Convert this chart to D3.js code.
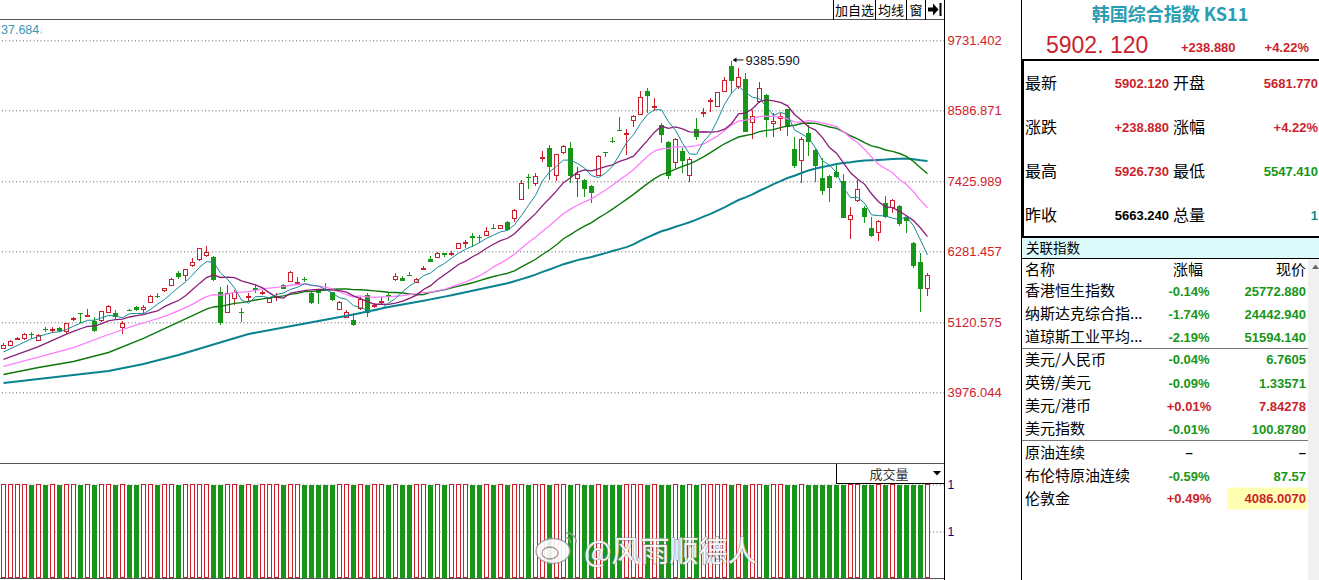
<!DOCTYPE html>
<html>
<head>
<meta charset="utf-8">
<script src="https://cdn.jsdelivr.net/npm/d3@7"></script>
<style>
  body { margin: 0; background: #fff; }
  svg { display: block; font-family: "Liberation Sans", Arial, sans-serif; }
  .cjk { font-family: "Noto Sans CJK SC", sans-serif; }
</style>
</head>
<body>
<script>
// daily candles (oldest first)
const opens = [
  4700,4744,4847,4852,4932,4842,5011,4999,5022,4973,
  5174,5268,5240,5147,5147,5289,5268,5032,5325,5370,
  5333,5452,5550,5649,5719,5926,5882,6052,6144,6232,
  6193,5616,5284,5523,5297,5534,5681,5603,5444,5546,
  5725,5801,5774,5828,5595,5657,5668,5611,5326,5212,
  5158,5359,5567,5393,5452,5567,5828,5850,5897,5774,
  5998,6160,6183,6248,6244,6330,6424,6527,6523,6559,
  6670,6651,6755,6826,7131,7504,7393,7813,7965,7529,
  7893,7965,7468,7447,7349,7524,7897,8093,8268,8206,
  8423,8521,8902,8652,8341,8068,7736,7926,7529,8276,
  8549,8739,8645,8907,9311,8972,9098,8390,8727,8837,
  8374,8449,8603,7954,7769,8215,7938,7480,7512,7578,
  7431,6804,7120,6994,6662,6592,7066,7001,7022,6837,
  6422,6106,5681.77
];
const highs = [
  4782,4823,4888,4946,4962,4929,5039,5044,5036,5117,
  5207,5272,5333,5212,5313,5403,5322,5147,5338,5387,
  5403,5559,5595,5686,5837,5959,6000,6172,6335,6368,
  6204,5693,5730,5649,5359,5604,5747,5649,5526,5595,
  5739,5959,5866,5856,5608,5670,5758,5624,5461,5322,
  5268,5539,5595,5441,5529,5604,5931,5877,5938,5850,
  6033,6204,6270,6248,6291,6425,6466,6576,6548,6674,
  6728,6719,6769,6965,7447,7540,7557,7921,8019,7880,
  8019,8068,7655,7468,7365,7848,7910,8155,8482,8276,
  8502,8897,8951,8783,8384,8085,8126,7965,7818,8456,
  8619,8783,8894,9136,9385.59,9273,9192,8592,9054,8861,
  8538,8538,8616,8145,8145,8341,7954,7802,7534,7720,
  7540,7011,7447,7014,6837,6801,7185,7136,7038,6850,
  6438,6248,5926.73
];
const lows = [
  4676,4733,4823,4839,4847,4834,4962,4950,4970,4929,
  5150,5109,5237,4970,5133,5281,5158,4924,5305,5313,
  5268,5436,5513,5616,5706,5823,5801,6020,6131,6193,
  5804,5076,5272,5408,5130,5457,5595,5567,5431,5474,
  5657,5788,5771,5784,5416,5420,5632,5474,5317,5186,
  5065,5322,5202,5349,5420,5469,5801,5791,5886,5763,
  5976,6106,6172,6193,6204,6319,6340,6352,6412,6548,
  6657,6638,6618,6765,7120,7295,7349,7746,7447,7436,
  7872,7403,7174,7174,7076,7512,7818,8047,8256,7856,
  8309,8510,8538,8580,8057,7468,7638,7566,7419,8101,
  8482,8564,8636,8897,8865,8930,8224,8112,8714,8155,
  8145,8253,8166,7638,7403,7839,7419,7202,7092,7488,
  6821,6477,7095,6749,6510,6455,6834,6912,6695,6585,
  6013,5294,5547.41
];
const closes = [
  4744,4810,4856,4924,4921,4918,4999,5011,4983,5104,
  5183,5251,5248,4983,5300,5382,5202,5104,5317,5322,
  5366,5546,5541,5686,5823,5861,5987,6106,6330,6275,
  5812,5114,5595,5616,5289,5546,5649,5613,5513,5554,
  5673,5943,5783,5818,5428,5595,5660,5485,5447,5294,
  5076,5501,5268,5403,5462,5539,5882,5801,5890,5828,
  6008,6111,6253,6221,6253,6412,6433,6507,6504,6618,
  6662,6706,6630,6952,7393,7496,7508,7823,7665,7867,
  7998,7512,7540,7305,7239,7835,7888,8085,8260,8215,
  8489,8799,8825,8662,8188,7517,8112,7763,7785,8155,
  8559,8748,8878,9082,9071,9126,8237,8489,8946,8428,
  8412,8489,8318,7676,8112,8073,7681,7267,7321,7501,
  6831,6870,7300,6847,6536,6772,6847,7115,6723,6782,
  6041,5663.24,5902.12
];
// volume shows as 1 for every day
const volumes = closes.map(() => 1);

// moving averages before their window is full (history is off screen)
const ma5EarlyIdx = [0];
const ma5EarlyVal = [4635];
const ma10EarlyIdx = [0, 5];
const ma10EarlyVal = [4515, 4722];
const ma20EarlyIdx = [0, 5, 10, 15];
const ma20EarlyVal = [4398, 4553, 4708, 4921];
const ma30EarlyIdx = [0, 5, 10, 15, 20, 25];
const ma30EarlyVal = [4267, 4381, 4480, 4627, 4856, 5125];
const ma60EarlyIdx = [0, 5, 10, 15, 20, 25, 30, 35, 40, 45, 50, 55];
const ma60EarlyVal = [4128, 4193, 4259, 4324, 4439, 4586, 4757, 4929, 5035, 5142, 5248, 5370];

const priceTicks = [9731.402, 8586.871, 7425.989, 6281.457, 5120.575, 3976.044];
const volTicks = [1, 0.5];

const title = '韩国综合指数 KS11';
const lastPrice = '5902. 120';
const lastChange = '+238.880';
const lastPct = '+4.22%';

const quoteLabels = [['最新', '开盘'], ['涨跌', '涨幅'], ['最高', '最低'], ['昨收', '总量']];
const quoteValues = [['5902.120', '5681.770'], ['+238.880', '+4.22%'], ['5926.730', '5547.410'], ['5663.240', '1']];
const quoteColors = [['red', 'red'], ['red', 'red'], ['red', 'green'], ['black', 'teal']];

const relNames = ['香港恒生指数', '纳斯达克综合指...', '道琼斯工业平均...', '美元/人民币', '英镑/美元', '美元/港币', '美元指数', '原油连续', '布伦特原油连续', '伦敦金'];
const relChanges = ['-0.14%', '-1.74%', '-2.19%', '-0.04%', '-0.09%', '+0.01%', '-0.01%', '–', '-0.59%', '+0.49%'];
const relPrices = ['25772.880', '24442.940', '51594.140', '6.7605', '1.33571', '7.84278', '100.8780', '–', '87.57', '4086.0070'];

const colors = { red: '#cc1f2b', green: '#179617', black: '#000', teal: '#1a8a8a' };

// ---------------------------------------------------------------
const width = 1319, height = 580;
const chartRight = 944.5;

const svg = d3.select('body')
  .append('svg')
  .attr('width', width)
  .attr('height', height)
  .style('background', '#fff');

const x = d3.scaleLinear()
  .domain([0, closes.length - 1])
  .range([3.5, 927.5]);

const y = d3.scaleLinear()
  .domain([priceTicks[priceTicks.length - 1], priceTicks[0]])
  .range([392.3, 40.3]);

const yVol = d3.scaleLinear()
  .domain([0, 1])
  .range([578.5, 484.5]);

// dotted grid lines of the price panel
svg.append('g')
  .attr('transform', `translate(${chartRight},0)`)
  .call(d3.axisLeft(y).tickValues(priceTicks).tickSize(chartRight).tickFormat(''))
  .call(g => g.select('.domain').remove())
  .selectAll('line')
  .attr('stroke', '#666')
  .attr('stroke-dasharray', '1,2.5');

// price labels
svg.append('g')
  .attr('transform', `translate(${chartRight},0)`)
  .call(d3.axisRight(y).tickValues(priceTicks).tickFormat(d3.format('.3f')).tickSize(0).tickPadding(3))
  .call(g => g.select('.domain').remove())
  .selectAll('text')
  .attr('fill', '#d0202c')
  .style('font-size', '13px')
  .style('font-family', '"Liberation Sans", Arial, sans-serif');

// volume grid + labels
svg.append('g')
  .attr('transform', `translate(${chartRight},0)`)
  .call(d3.axisLeft(yVol).tickValues(volTicks).tickSize(chartRight).tickFormat(''))
  .call(g => g.select('.domain').remove())
  .selectAll('line')
  .attr('stroke', '#666')
  .attr('stroke-dasharray', '1,2.5');

svg.append('g')
  .attr('transform', `translate(${chartRight},0)`)
  .call(d3.axisRight(yVol).tickValues(volTicks).tickFormat(d3.format('.0f')).tickSize(0).tickPadding(3))
  .call(g => g.select('.domain').remove())
  .selectAll('text')
  .attr('fill', '#000080')
  .style('font-size', '12px')
  .style('font-family', '"Liberation Sans", Arial, sans-serif');

// candles
const days = d3.range(closes.length);
const isUp = i => closes[i] >= opens[i];

const candles = svg.append('g')
  .attr('shape-rendering', 'crispEdges')
  .selectAll('g')
  .data(days)
  .join('g');

candles.append('line')
  .attr('x1', i => x(i)).attr('x2', i => x(i))
  .attr('y1', i => y(highs[i]))
  .attr('y2', i => isUp(i) ? y(closes[i]) : y(lows[i]))
  .attr('stroke', i => isUp(i) ? colors.red : colors.green);

candles.filter(isUp).append('line')
  .attr('x1', i => x(i)).attr('x2', i => x(i))
  .attr('y1', i => y(opens[i]))
  .attr('y2', i => y(lows[i]))
  .attr('stroke', colors.red);

candles.filter(i => !isUp(i)).append('rect')
  .attr('x', i => x(i) - 2.5)
  .attr('width', 5)
  .attr('y', i => y(opens[i]))
  .attr('height', i => Math.max(1, y(closes[i]) - y(opens[i])))
  .attr('fill', colors.green);

candles.filter(isUp).append('rect')
  .attr('x', i => x(i) - 2)
  .attr('width', 4)
  .attr('y', i => Math.round(y(closes[i])) + 0.5)
  .attr('height', i => Math.max(0.5, Math.round(y(opens[i]) - y(closes[i]))))
  .attr('fill', '#fff')
  .attr('stroke', colors.red);

// moving averages
function maPoints(n, earlyIdx, earlyVal) {
  const pts = earlyIdx.map((d, k) => [d, earlyVal[k]]);
  for (let i = n - 1; i < closes.length; i++) {
    pts.push([i, d3.mean(closes.slice(i - n + 1, i + 1))]);
  }
  return pts;
}

const maLines = [
  { pts: maPoints(60, ma60EarlyIdx, ma60EarlyVal), color: '#0a8290', w: 2 },
  { pts: maPoints(30, ma30EarlyIdx, ma30EarlyVal), color: '#0b780b', w: 1.4 },
  { pts: maPoints(20, ma20EarlyIdx, ma20EarlyVal), color: '#ff7dff', w: 1.3 },
  { pts: maPoints(10, ma10EarlyIdx, ma10EarlyVal), color: '#8a1e78', w: 1.3 },
  { pts: maPoints(5, ma5EarlyIdx, ma5EarlyVal), color: '#138a96', w: 1 }
];

const line = d3.line().x(d => x(d[0])).y(d => y(d[1]));

svg.append('g')
  .selectAll('path')
  .data(maLines)
  .join('path')
  .attr('d', d => line(d.pts))
  .attr('fill', 'none')
  .attr('stroke', d => d.color)
  .attr('stroke-width', d => d.w);

// highest point marker
const topIdx = d3.maxIndex(highs);
const topY = y(highs[topIdx]) - 1.5;
svg.append('path')
  .attr('d', `M${x(topIdx) + 1},${topY} l4,-2.5 v5 z`)
  .attr('fill', '#111');
svg.append('line')
  .attr('x1', x(topIdx) + 4).attr('x2', x(topIdx) + 12)
  .attr('y1', topY).attr('y2', topY)
  .attr('stroke', '#111');
svg.append('text')
  .attr('x', x(topIdx) + 14)
  .attr('y', topY)
  .attr('dy', '0.35em')
  .style('font-size', '13px')
  .attr('fill', '#10142e')
  .text(d3.format('.3f')(highs[topIdx]));

// volume bars
const vol = svg.append('g').attr('shape-rendering', 'crispEdges');
vol.selectAll('rect.dn')
  .data(days.filter(i => !isUp(i)))
  .join('rect')
  .attr('x', i => x(i) - 2.5)
  .attr('width', 5)
  .attr('y', i => yVol(volumes[i]))
  .attr('height', i => yVol(0) - yVol(volumes[i]))
  .attr('fill', colors.green);
vol.selectAll('rect.up')
  .data(days.filter(isUp))
  .join('rect')
  .attr('x', i => x(i) - 2)
  .attr('width', 4)
  .attr('y', i => yVol(volumes[i]))
  .attr('height', i => yVol(0) - yVol(volumes[i]) - 1)
  .attr('fill', '#fff')
  .attr('stroke', colors.red);

// frame lines
const frame = svg.append('g').attr('shape-rendering', 'crispEdges').attr('fill', 'none');
frame.append('line').attr('x1', 0).attr('x2', chartRight).attr('y1', 19.5).attr('y2', 19.5).attr('stroke', '#555');
frame.append('line').attr('x1', 0).attr('x2', chartRight).attr('y1', 463.5).attr('y2', 463.5).attr('stroke', '#555');
frame.append('line').attr('x1', 0).attr('x2', chartRight).attr('y1', 578.5).attr('y2', 578.5).attr('stroke', '#555');
frame.append('line').attr('x1', chartRight).attr('x2', chartRight).attr('y1', 0).attr('y2', height).attr('stroke', '#000');
frame.append('line').attr('x1', 1021.5).attr('x2', 1021.5).attr('y1', 0).attr('y2', height).attr('stroke', '#000');

// top buttons
const btnEdges = [833.5, 875.5, 906.5, 925.5];
const btnText = ['加自选', '均线', '窗'];
btnEdges.forEach(e => frame.append('line').attr('x1', e).attr('x2', e).attr('y1', 0).attr('y2', 19.5).attr('stroke', '#000'));
svg.append('g').selectAll('text')
  .data(btnText)
  .join('text')
  .attr('class', 'cjk')
  .attr('x', (d, k) => (btnEdges[k] + btnEdges[k + 1]) / 2)
  .attr('y', 10)
  .attr('dy', '0.35em')
  .attr('text-anchor', 'middle')
  .style('font-size', '13px')
  .text(d => d);
svg.append('path')
  .attr('d', 'M928,7.5 h5 v-4 l5.5,6 l-5.5,6 v-4 h-5 z M939.5,3 h2 v13 h-2 z')
  .attr('fill', '#000');

// volume header box
frame.append('path').attr('d', 'M836.5,463.5 V483.5 H944.5').attr('stroke', '#000');
svg.append('text').attr('class', 'cjk')
  .attr('x', 889).attr('y', 474).attr('dy', '0.35em')
  .attr('text-anchor', 'middle')
  .style('font-size', '13px').attr('fill', '#333')
  .text('成交量');
svg.append('path').attr('d', 'M933,471 h8 l-4,4.5 z').attr('fill', '#000');

// leftover label at top left
svg.append('text')
  .attr('x', 1).attr('y', 30).attr('dy', '0.35em')
  .style('font-size', '12.5px').attr('fill', '#3a96b4')
  .text('37.684');
svg.append('text')
  .attr('x', 38).attr('y', 30).attr('dy', '0.35em')
  .style('font-size', '12px').attr('fill', '#8fe4ff')
  .text('↓');

// watermark
const wm = svg.append('g').attr('opacity', 0.9);
wm.append('ellipse').attr('cx', 553).attr('cy', 551).attr('rx', 17).attr('ry', 12.5)
  .attr('fill', '#fff').attr('stroke', '#999').attr('stroke-width', 1.3);
wm.append('ellipse').attr('cx', 550).attr('cy', 553).attr('rx', 8).attr('ry', 6)
  .attr('fill', 'none').attr('stroke', '#999').attr('stroke-width', 1.3);
wm.append('path').attr('d', 'M566,533 a9,9 0 0 1 10,10 M565,538 a4,4 0 0 1 5,5')
  .attr('fill', 'none').attr('stroke', '#999').attr('stroke-width', 1.6);
wm.append('text').attr('class', 'cjk')
  .attr('x', 584).attr('y', 562)
  .style('font-size', '29px')
  .attr('fill', '#fff').attr('stroke', '#8a8a8a').attr('stroke-width', 1.2)
  .style('paint-order', 'stroke')
  .text('@风雨顺德人');

// ---------------- right panel ----------------
const panel = svg.append('g');

panel.append('text').attr('class', 'cjk')
  .attr('x', 1170).attr('y', 15)
  .attr('dy', '0.36em')
  .attr('text-anchor', 'middle')
  .style('font-size', '18px').style('font-weight', 'bold')
  .attr('fill', '#2a9db4')
  .text(title);

panel.append('text')
  .attr('x', 1046).attr('y', 53)
  .style('font-size', '23px')
  .attr('fill', colors.red)
  .text(lastPrice);
panel.append('text')
  .attr('x', 1181).attr('y', 52)
  .style('font-size', '13px').style('font-weight', 'bold')
  .attr('fill', colors.red)
  .text(lastChange);
panel.append('text')
  .attr('x', 1309).attr('y', 52)
  .attr('text-anchor', 'end')
  .style('font-size', '13px').style('font-weight', 'bold')
  .attr('fill', colors.red)
  .text(lastPct);

const pframe = panel.append('g').attr('shape-rendering', 'crispEdges');
pframe.append('rect').attr('x', 1022).attr('y', 59).attr('width', 297).attr('height', 2).attr('fill', '#000');
pframe.append('rect').attr('x', 1022).attr('y', 59).attr('width', 2).attr('height', 179).attr('fill', '#000');
pframe.append('rect').attr('x', 1022).attr('y', 236).attr('width', 297).attr('height', 2).attr('fill', '#000');
pframe.append('rect').attr('x', 1022).attr('y', 238).attr('width', 297).attr('height', 20).attr('fill', '#dcfafa');
pframe.append('line').attr('x1', 1022).attr('x2', 1319).attr('y1', 258.5).attr('y2', 258.5).attr('stroke', '#000');
pframe.append('rect').attr('x', 1308).attr('y', 259).attr('width', 11).attr('height', 321).attr('fill', '#f0f0f0');
pframe.append('line').attr('x1', 1022).attr('x2', 1308).attr('y1', 348.5).attr('y2', 348.5).attr('stroke', '#777');
pframe.append('line').attr('x1', 1022).attr('x2', 1308).attr('y1', 440.5).attr('y2', 440.5).attr('stroke', '#777');
panel.append('path').attr('d', 'M1312,269 l3.5,-4.5 l3.5,4.5 z').attr('fill', '#666');

// quote block
const quoteRowY = [83.5, 127.5, 171.5, 215.5];
quoteLabels.forEach((pair, r) => {
  [1025, 1173].forEach((lx, c) => {
    panel.append('text').attr('class', 'cjk')
      .attr('x', lx).attr('y', quoteRowY[r]).attr('dy', '0.36em')
      .style('font-size', '16px')
      .text(pair[c]);
  });
  [1169, 1318].forEach((vx, c) => {
    panel.append('text')
      .attr('x', vx).attr('y', quoteRowY[r]).attr('dy', '0.36em')
      .attr('text-anchor', 'end')
      .style('font-size', '13px').style('font-weight', 'bold')
      .attr('fill', colors[quoteColors[r][c]])
      .text(quoteValues[r][c]);
  });
});

// related indices table
panel.append('text').attr('class', 'cjk')
  .attr('x', 1026).attr('y', 248).attr('dy', '0.36em')
  .style('font-size', '13.5px')
  .text('关联指数');

const headY = 269.5;
panel.append('text').attr('class', 'cjk').attr('x', 1025).attr('y', headY).attr('dy', '0.36em')
  .style('font-size', '15px').text('名称');
panel.append('text').attr('class', 'cjk').attr('x', 1188).attr('y', headY).attr('dy', '0.36em')
  .attr('text-anchor', 'middle').style('font-size', '15px').text('涨幅');
panel.append('text').attr('class', 'cjk').attr('x', 1306).attr('y', headY).attr('dy', '0.36em')
  .attr('text-anchor', 'end').style('font-size', '15px').text('现价');

const relRowY = [291, 314, 337, 359.5, 383, 406, 429, 452.5, 476, 498.5];
panel.append('rect').attr('x', 1227).attr('y', 487.5).attr('width', 80).attr('height', 22).attr('fill', '#ffffb2');

const relColor = s => s.startsWith('+') ? colors.red : s.startsWith('-') ? colors.green : '#000';
relNames.forEach((name, r) => {
  panel.append('text').attr('class', 'cjk')
    .attr('x', 1025).attr('y', relRowY[r]).attr('dy', '0.36em')
    .style('font-size', '15px')
    .text(name);
  panel.append('text')
    .attr('x', 1189).attr('y', relRowY[r]).attr('dy', '0.36em')
    .attr('text-anchor', 'middle')
    .style('font-size', '13px').style('font-weight', 'bold')
    .attr('fill', relColor(relChanges[r]))
    .text(relChanges[r]);
  panel.append('text')
    .attr('x', 1306).attr('y', relRowY[r]).attr('dy', '0.36em')
    .attr('text-anchor', 'end')
    .style('font-size', '13px').style('font-weight', 'bold')
    .attr('fill', relColor(relChanges[r]))
    .text(relPrices[r]);
});
</script>
</body>
</html>
